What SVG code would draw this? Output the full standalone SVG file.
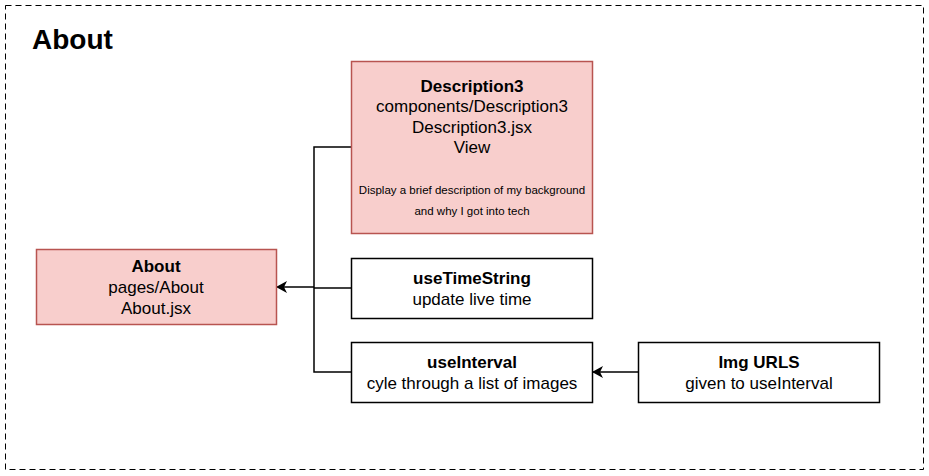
<svg xmlns="http://www.w3.org/2000/svg" width="929" height="476" viewBox="0 0 929 476">
<defs>
<style>
text{font-family:"Liberation Sans",Arial,sans-serif;fill:#000;text-anchor:middle}
.t{font-size:17px}
.b{font-weight:bold}
.s{font-size:11.5px}
.red{fill:#f8cecc;stroke:#b85450;stroke-width:1.5}
.wh{fill:#fff;stroke:#000;stroke-width:1.5}
.c{fill:none;stroke:#000;stroke-width:1.5}
</style>
<marker id="arr" markerWidth="12" markerHeight="12" refX="10" refY="6" orient="auto" markerUnits="userSpaceOnUse">
<path d="M0,0 L11,6 L0,12 L3,6 Z" fill="#000"/>
</marker>
</defs>
<rect width="929" height="476" fill="#fff"/>
<rect x="5.5" y="5.5" width="918" height="464" fill="none" stroke="#000" stroke-width="1" stroke-dasharray="6 4"/>
<text x="32" y="49" style="font-size:28px;font-weight:bold;text-anchor:start">About</text>
<g id="connectors">
<path class="c" d="M351,147 H314 V372 H351" />
<path class="c" d="M351,288 H314" />
<path class="c" d="M314,287 H277" marker-end="url(#arr)"/>
<path class="c" d="M638,372 H593" marker-end="url(#arr)"/>
</g>
<g id="description3">
<rect class="red" x="351.5" y="61.5" width="241" height="172"/>
<text class="t b" x="472" y="92">Description3</text>
<text class="t" x="472" y="112">components/Description3</text>
<text class="t" x="472" y="133">Description3.jsx</text>
<text class="t" x="472" y="153">View</text>
<text class="s" x="472" y="194">Display a brief description of my background</text>
<text class="s" x="472" y="215">and why I got into tech</text>
</g>
<g id="about">
<rect class="red" x="36.5" y="249.5" width="240" height="75"/>
<text class="t b" x="156" y="272">About</text>
<text class="t" x="156" y="293">pages/About</text>
<text class="t" x="156" y="314">About.jsx</text>
</g>
<g id="useTimeString">
<rect class="wh" x="351.5" y="258.5" width="241" height="60"/>
<text class="t b" x="472" y="284">useTimeString</text>
<text class="t" x="472" y="305">update live time</text>
</g>
<g id="useInterval">
<rect class="wh" x="351.5" y="342.5" width="241" height="60"/>
<text class="t b" x="472" y="368">useInterval</text>
<text class="t" x="472" y="389">cyle through a list of images</text>
</g>
<g id="imgUrls">
<rect class="wh" x="638.5" y="342.5" width="241" height="60"/>
<text class="t b" x="759" y="368">Img URLS</text>
<text class="t" x="759" y="389">given to useInterval</text>
</g>
</svg>
